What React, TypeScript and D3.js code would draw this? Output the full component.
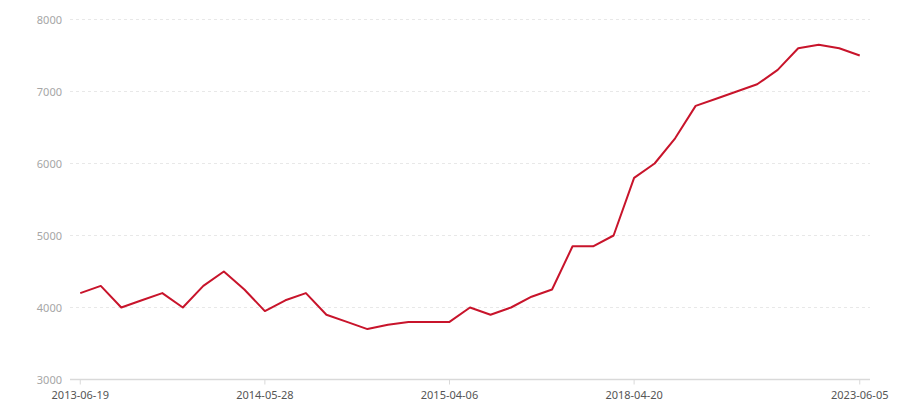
import React from 'react'
import * as d3 from 'd3'

// dates on the x axis (only every 9th one is labelled)
const dates = [
  '2013-06-19', '2013-07-24', '2013-08-21', '2013-09-18', '2013-10-23',
  '2013-11-20', '2013-12-18', '2014-01-22', '2014-03-19', '2014-05-28',
  '2014-06-25', '2014-07-23', '2014-08-20', '2014-09-24', '2014-10-22',
  '2014-11-19', '2014-12-17', '2015-02-11', '2015-04-06', '2015-07-15',
  '2015-11-18', '2016-03-23', '2016-07-20', '2016-11-16', '2017-03-22',
  '2017-07-19', '2017-11-15', '2018-04-20', '2018-09-19', '2019-03-20',
  '2019-09-18', '2020-03-18', '2020-09-16', '2021-03-17', '2021-09-15',
  '2022-03-16', '2022-09-21', '2023-02-15', '2023-06-05',
]

const prices = [
  4200, 4300, 4000, 4100, 4200, 4000, 4300, 4500, 4250, 3950,
  4100, 4200, 3900, 3800, 3700, 3760, 3800, 3800, 3800, 4000,
  3900, 4000, 4150, 4250, 4850, 4850, 5000, 5800, 6000, 6350,
  6800, 6900, 7000, 7100, 7300, 7600, 7650, 7600, 7500,
]

const yTicks = [3000, 4000, 5000, 6000, 7000, 8000]
const labelEvery = 9

const width = 900
const height = 400
const margin = { top: 19.5, right: 30, bottom: 20.5, left: 70 }

const App = () => {
  const x = d3
    .scaleBand<string>()
    .domain(dates)
    .range([margin.left, width - margin.right])
  const y = d3
    .scaleLinear()
    .domain([3000, 8000])
    .range([height - margin.bottom, margin.top])

  const cx = (d: string) => (x(d) ?? 0) + x.bandwidth() / 2

  const line = d3
    .line<number>()
    .x((_, i) => cx(dates[i]))
    .y((v) => y(v))

  // labelled categories: every 9th plus the last one
  const shown = dates.filter(
    (_, i) => (i % labelEvery === 0 && i < dates.length - 3) || i === dates.length - 1
  )

  const font = '"Noto Sans", "DejaVu Sans", sans-serif'

  return (
    <svg
      width={width}
      height={height}
      style={{ position: 'absolute', left: 0, top: 0 }}
      fontFamily={font}
    >
      {/* dashed grid lines */}
      {yTicks.slice(1).map((t) => (
        <line
          key={`grid-${t}`}
          x1={margin.left}
          x2={width - margin.right}
          y1={y(t)}
          y2={y(t)}
          stroke="#e8e8e8"
          strokeDasharray="3,3"
        />
      ))}
      {yTicks.map((t) => (
        <text
          key={`ylab-${t}`}
          x={margin.left - 8}
          y={y(t)}
          textAnchor="end"
          dominantBaseline="central"
          fontSize={11}
          fill="#a6a6a6"
        >
          {t}
        </text>
      ))}

      {/* x axis */}
      <line
        x1={margin.left}
        x2={width - margin.right}
        y1={y(3000)}
        y2={y(3000)}
        stroke="#d9d9d9"
        strokeWidth={1.5}
      />
      {shown.map((d) => (
        <g key={`xt-${d}`} transform={`translate(${cx(d)},${y(3000)})`}>
          <line y1={0} y2={5} stroke="#d9d9d9" />
          <text
            y={14.5}
            textAnchor="middle"
            dominantBaseline="central"
            fontSize={11}
            fill="#555"
          >
            {d}
          </text>
        </g>
      ))}

      <path
        d={line(prices) ?? ''}
        fill="none"
        stroke="#c8142b"
        strokeWidth={2}
        strokeLinejoin="round"
      />
    </svg>
  )
}

export default App
